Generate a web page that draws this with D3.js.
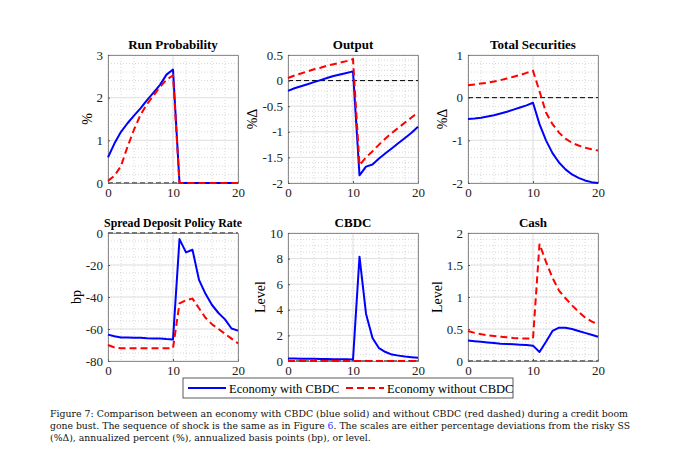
<!DOCTYPE html>
<html><head><meta charset="utf-8">
<script src="https://cdn.jsdelivr.net/npm/d3@7"></script>
<style>body{margin:0;background:#fff}svg{display:block}</style>
</head><body><svg id="c" width="680" height="468"></svg>
<script>
const periods = d3.range(0, 21);
const titles = ["Run Probability","Output","Total Securities","Spread Deposit Policy Rate","CBDC","Cash"];
const yLabels = ["%","%\u0394","%\u0394","bp","Level","Level"];
const yDomains = [[0,3],[-2,0.5],[-2,1],[-80,0],[0,10],[0,2]];
const yMajor = [1,0.5,1,20,2,0.5];
const yMinor = [0.2,0.1,0.2,5,0.5,0.1];
const xTicks = [0,10,20];
const legendLabels = ["Economy with CBDC","Economy without CBDC"];

const runWith    = [0.6,0.93,1.2,1.4,1.58,1.75,1.94,2.12,2.3,2.54,2.66,0,0,0,0,0,0,0,0,0,0];
const runWithout = [0.05,0.17,0.4,0.85,1.25,1.6,1.85,2.05,2.25,2.42,2.52,0,0,0,0,0,0,0,0,0,0];
const outWith    = [-0.2,-0.15,-0.11,-0.07,-0.03,0.01,0.05,0.09,0.12,0.15,0.18,-1.85,-1.68,-1.64,-1.52,-1.42,-1.32,-1.22,-1.12,-1.02,-0.9];
const outWithout = [0.05,0.1,0.14,0.18,0.22,0.25,0.29,0.32,0.35,0.38,0.42,-1.65,-1.5,-1.38,-1.25,-1.13,-1.02,-0.92,-0.82,-0.72,-0.62];
const secWith    = [-0.5,-0.49,-0.47,-0.44,-0.41,-0.37,-0.33,-0.28,-0.23,-0.18,-0.12,-0.62,-1.0,-1.3,-1.52,-1.68,-1.8,-1.88,-1.94,-1.98,-2.0];
const secWithout = [0.29,0.31,0.33,0.35,0.38,0.41,0.45,0.49,0.53,0.58,0.63,0.15,-0.35,-0.62,-0.82,-0.96,-1.06,-1.12,-1.17,-1.21,-1.24];
const sprWith    = [-63.5,-64.5,-65.3,-65.3,-65.5,-65.5,-65.8,-66,-66,-66.3,-66.5,-3.8,-12.1,-10.5,-29.3,-38,-45,-50,-54,-59.7,-61];
const sprWithout = [-70,-71.5,-72,-72,-72,-72,-72,-72,-72,-72,-72,-44,-42,-41,-47,-53,-57,-60,-63,-66,-69];
const cbdcWith    = [0.2,0.19,0.18,0.17,0.17,0.16,0.15,0.14,0.13,0.13,0.12,8.15,3.7,1.8,1.0,0.7,0.5,0.42,0.35,0.3,0.25];
const cbdcWithout = [0,0,0,0,0,0,0,0,0,0,0,0,0,0,0,0,0,0,0,0,0];
const cashWith    = [0.32,0.31,0.3,0.29,0.28,0.27,0.265,0.26,0.255,0.25,0.24,0.14,0.3,0.47,0.52,0.52,0.5,0.47,0.44,0.41,0.38];
const cashWithout = [0.47,0.44,0.42,0.4,0.39,0.38,0.37,0.36,0.355,0.35,0.35,1.83,1.55,1.3,1.1,0.98,0.87,0.77,0.68,0.62,0.57];

const seriesWith = [runWith,outWith,secWith,sprWith,cbdcWith,cashWith];
const seriesWithout = [runWithout,outWithout,secWithout,sprWithout,cbdcWithout,cashWithout];

const captionLines = [
 ["Figure 7: Comparison between an economy with CBDC (blue solid) and without CBDC (red dashed) during a credit boom"],
 ["gone bust.  The sequence of shock is the same as in Figure ", "6", ".  The scales are either percentage deviations from the risky SS"],
 ["(%\u0394), annualized percent (%), annualized basis points (bp), or level."]
];

const svg = d3.select("#c");
const FONT = "'Liberation Serif','Times New Roman',serif";
const colLeft = [108, 288, 468], rowTop = [55, 233], W = 130, H = 128;
const BLUE = "#0000ff", RED = "#ff0000";

titles.forEach((t, i) => {
  const L = colLeft[i % 3], T = rowTop[Math.floor(i / 3)];
  const g = svg.append("g").attr("transform", `translate(${L},${T})`);
  const x = d3.scaleLinear().domain([0, 20]).range([0, W]);
  const y = d3.scaleLinear().domain(yDomains[i]).range([H, 0]);
  const [y0, y1] = yDomains[i];
  const minorY = d3.range(y0, y1 + 1e-9, yMinor[i]);
  const majorY = d3.range(y0, y1 + 1e-9, yMajor[i]);
  const minorX = d3.range(0, 20.001, 2);
  g.append("rect").attr("width", W).attr("height", H).attr("fill", "#fff");
  g.selectAll(".mx").data(minorX).enter().append("line")
    .attr("x1", d => x(d)).attr("x2", d => x(d)).attr("y1", 0).attr("y2", H)
    .attr("stroke", "#c8c8c8").attr("stroke-width", 0.7).attr("stroke-dasharray", "1,2");
  g.selectAll(".my").data(minorY).enter().append("line")
    .attr("y1", d => y(d)).attr("y2", d => y(d)).attr("x1", 0).attr("x2", W)
    .attr("stroke", "#c8c8c8").attr("stroke-width", 0.7).attr("stroke-dasharray", "1,2");
  g.selectAll(".Mx").data(xTicks).enter().append("line")
    .attr("x1", d => x(d)).attr("x2", d => x(d)).attr("y1", 0).attr("y2", H)
    .attr("stroke", "#e2e2e2").attr("stroke-width", 1);
  g.selectAll(".My").data(majorY).enter().append("line")
    .attr("y1", d => y(d)).attr("y2", d => y(d)).attr("x1", 0).attr("x2", W)
    .attr("stroke", "#e2e2e2").attr("stroke-width", 1);
  g.append("line").attr("x1", 0).attr("x2", W).attr("y1", y(0)).attr("y2", y(0))
    .attr("stroke", "#000").attr("stroke-width", 1).attr("stroke-dasharray", "5,3");
  const ax = g.append("g").attr("transform", `translate(0,${H})`)
    .call(d3.axisBottom(x).tickValues(xTicks).tickSize(-2).tickPadding(5).tickFormat(d3.format("d")));
  const ay = g.append("g")
    .call(d3.axisLeft(y).tickValues(majorY).tickSize(-2).tickPadding(5).tickFormat(d => (+d.toFixed(2)).toString()));
  g.append("g").call(d3.axisTop(x).tickValues(xTicks).tickSize(0).tickFormat(""));
  g.append("g").attr("transform", `translate(${W},0)`)
    .call(d3.axisRight(y).tickValues(majorY).tickSize(0).tickFormat(""));
  g.selectAll(".domain").attr("stroke", "#777").attr("stroke-width", 0.8);
  g.selectAll(".tick line").attr("stroke", "#555");
  [ax, ay].forEach(a => a.selectAll("text").attr("font-family", FONT).attr("font-size", 13).attr("fill", "#222"));
  const line = d3.line().x((d, k) => x(periods[k])).y(d => y(d));
  g.append("path").datum(seriesWith[i]).attr("d", line).attr("fill", "none")
    .attr("stroke", BLUE).attr("stroke-width", 2).attr("stroke-linejoin", "round");
  g.append("path").datum(seriesWithout[i]).attr("d", line).attr("fill", "none")
    .attr("stroke", RED).attr("stroke-width", 2).attr("stroke-dasharray", "7,4");
  const tt = g.append("text").attr("x", W / 2).attr("y", -6).attr("text-anchor", "middle")
    .attr("font-family", FONT).attr("font-weight", "bold").attr("font-size", 13).text(t);
  const tw = tt.node().getComputedTextLength();
  if (tw > W + 8) tt.attr("font-size", 13 * (W + 8) / tw);
  let maxW = 0;
  ay.selectAll("text").each(function(){ maxW = Math.max(maxW, this.getComputedTextLength()); });
  const lx = -10 - maxW;
  g.append("text").attr("transform", `translate(${lx},${H/2}) rotate(-90)`)
    .attr("text-anchor", "middle").attr("font-family", FONT).attr("font-size", 14).text(yLabels[i]);
});

const lg = svg.append("g").attr("transform", "translate(183,378)");
lg.append("rect").attr("width", 330).attr("height", 20).attr("fill", "#fff").attr("stroke", "#333").attr("stroke-width", 0.8);
const legendItems = [{c: BLUE, dash: null, x0: 5, tx: 46}, {c: RED, dash: "7,4", x0: 163, tx: 204}];
legendItems.forEach((it, k) => {
  lg.append("line").attr("x1", it.x0).attr("x2", it.x0 + 38).attr("y1", 10).attr("y2", 10)
    .attr("stroke", it.c).attr("stroke-width", 2).attr("stroke-dasharray", it.dash);
  lg.append("text").attr("x", it.tx).attr("y", 14.5).attr("font-family", FONT).attr("font-size", 12.5).text(legendLabels[k]);
});

const capW = [578, 580, null];
captionLines.forEach((parts, k) => {
  const t = svg.append("text").attr("x", 50).attr("y", 417 + k * 12)
    .attr("font-family", "'DejaVu Serif','Liberation Serif',serif").attr("font-size", 9.3).attr("fill", "#111");
  if (capW[k]) t.attr("textLength", capW[k]).attr("lengthAdjust", "spacingAndGlyphs");
  parts.forEach((p, j) => t.append("tspan").attr("fill", p === "6" ? "#3333ff" : "#111").text(p));
});
</script></body></html>
